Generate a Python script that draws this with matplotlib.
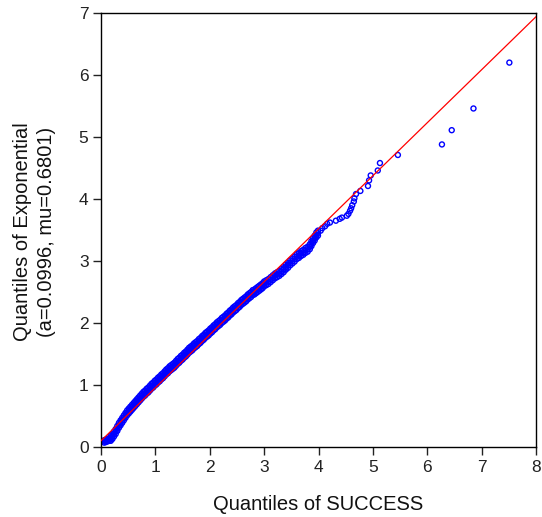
import matplotlib
matplotlib.use("Agg")
import matplotlib.pyplot as plt

plt.rcParams['font.family'] = ['Liberation Sans', 'DejaVu Sans']

# Dense part of the sample: sample quantiles (x) with the spread of the
# fitted exponential quantiles (y) at each of them: lower, middle, upper
dense_success_q = [
    0.06, 0.09, 0.12, 0.15, 0.18, 0.21, 0.24, 0.27, 0.30, 0.33, 0.36, 0.39,
    0.42, 0.45, 0.48, 0.51, 0.54, 0.57, 0.60, 0.63, 0.66, 0.69, 0.72, 0.75,
    0.78, 0.81, 0.84, 0.87, 0.90, 0.93, 0.96, 0.99, 1.02, 1.05, 1.08, 1.11,
    1.14, 1.17, 1.20, 1.23, 1.26, 1.29, 1.32, 1.35, 1.38, 1.41, 1.44, 1.47,
    1.50, 1.53, 1.56, 1.59, 1.62, 1.65, 1.68, 1.71, 1.74, 1.77, 1.80, 1.83,
    1.86, 1.89, 1.92, 1.95, 1.98, 2.01, 2.04, 2.07, 2.10, 2.13, 2.16, 2.19,
    2.22, 2.25, 2.28, 2.31, 2.34, 2.37, 2.40, 2.43, 2.46, 2.49, 2.52, 2.55,
    2.58, 2.61, 2.64, 2.67, 2.70, 2.73, 2.76, 2.79, 2.82, 2.85, 2.88, 2.91,
    2.94, 2.97, 3.00, 3.04, 3.08, 3.12, 3.16, 3.20, 3.24, 3.28, 3.32, 3.36,
    3.40, 3.44, 3.48, 3.52, 3.56, 3.60, 3.64, 3.68, 3.72, 3.76, 3.80, 3.84,
    3.87, 3.90, 3.93, 3.96, 3.99,
]

dense_expon_lo = [
    0.07, 0.08, 0.09, 0.10, 0.10, 0.13, 0.17, 0.21, 0.26, 0.31, 0.35, 0.39,
    0.43, 0.47, 0.51, 0.54, 0.57, 0.60, 0.63, 0.66, 0.69, 0.72, 0.75, 0.78,
    0.81, 0.83, 0.86, 0.88, 0.91, 0.94, 0.96, 0.99, 1.01, 1.04, 1.06, 1.09,
    1.11, 1.14, 1.17, 1.19, 1.22, 1.24, 1.26, 1.28, 1.31, 1.34, 1.36, 1.39,
    1.41, 1.44, 1.46, 1.49, 1.52, 1.54, 1.56, 1.59, 1.61, 1.63, 1.66, 1.68,
    1.71, 1.73, 1.76, 1.78, 1.80, 1.83, 1.85, 1.88, 1.90, 1.93, 1.95, 1.97,
    2.00, 2.02, 2.04, 2.07, 2.09, 2.12, 2.14, 2.17, 2.19, 2.21, 2.24, 2.26,
    2.29, 2.31, 2.33, 2.35, 2.38, 2.40, 2.42, 2.45, 2.46, 2.48, 2.50, 2.52,
    2.54, 2.56, 2.59, 2.61, 2.63, 2.66, 2.69, 2.72, 2.74, 2.76, 2.79, 2.82,
    2.86, 2.89, 2.93, 2.96, 2.99, 3.03, 3.05, 3.08, 3.10, 3.13, 3.15, 3.19,
    3.24, 3.29, 3.33, 3.38, 3.41,
]

dense_expon_mid = [
    0.09, 0.10, 0.11, 0.12, 0.14, 0.17, 0.21, 0.25, 0.30, 0.35, 0.39, 0.43,
    0.47, 0.51, 0.55, 0.58, 0.61, 0.64, 0.67, 0.70, 0.73, 0.76, 0.79, 0.82,
    0.85, 0.87, 0.90, 0.92, 0.95, 0.98, 1.00, 1.03, 1.05, 1.08, 1.10, 1.13,
    1.15, 1.18, 1.21, 1.23, 1.26, 1.28, 1.30, 1.32, 1.35, 1.38, 1.40, 1.43,
    1.45, 1.48, 1.50, 1.53, 1.56, 1.58, 1.60, 1.63, 1.65, 1.67, 1.70, 1.72,
    1.75, 1.77, 1.80, 1.82, 1.84, 1.87, 1.89, 1.92, 1.94, 1.97, 1.99, 2.01,
    2.04, 2.06, 2.08, 2.11, 2.13, 2.16, 2.18, 2.21, 2.23, 2.25, 2.28, 2.30,
    2.33, 2.35, 2.37, 2.39, 2.42, 2.44, 2.46, 2.49, 2.50, 2.52, 2.54, 2.56,
    2.58, 2.60, 2.63, 2.65, 2.67, 2.70, 2.73, 2.76, 2.78, 2.80, 2.83, 2.86,
    2.90, 2.93, 2.97, 3.00, 3.03, 3.07, 3.09, 3.12, 3.14, 3.17, 3.19, 3.23,
    3.28, 3.33, 3.37, 3.42, 3.45,
]

dense_expon_hi = [
    0.11, 0.12, 0.13, 0.14, 0.18, 0.21, 0.25, 0.29, 0.34, 0.39, 0.43, 0.47,
    0.51, 0.55, 0.59, 0.62, 0.65, 0.68, 0.71, 0.74, 0.77, 0.80, 0.83, 0.86,
    0.89, 0.91, 0.94, 0.96, 0.99, 1.02, 1.04, 1.07, 1.09, 1.12, 1.14, 1.17,
    1.19, 1.22, 1.25, 1.27, 1.30, 1.32, 1.34, 1.36, 1.39, 1.42, 1.44, 1.47,
    1.49, 1.52, 1.54, 1.57, 1.60, 1.62, 1.64, 1.67, 1.69, 1.71, 1.74, 1.76,
    1.79, 1.81, 1.84, 1.86, 1.88, 1.91, 1.93, 1.96, 1.98, 2.01, 2.03, 2.05,
    2.08, 2.10, 2.12, 2.15, 2.17, 2.20, 2.22, 2.25, 2.27, 2.29, 2.32, 2.34,
    2.37, 2.39, 2.41, 2.43, 2.46, 2.48, 2.50, 2.53, 2.54, 2.56, 2.58, 2.60,
    2.62, 2.64, 2.67, 2.69, 2.71, 2.74, 2.77, 2.80, 2.82, 2.84, 2.87, 2.90,
    2.94, 2.97, 3.01, 3.04, 3.07, 3.11, 3.13, 3.16, 3.18, 3.21, 3.23, 3.27,
    3.32, 3.37, 3.41, 3.46, 3.49,
]

# Upper tail: individual quantile pairs
tail_success_q = [
    4.04, 4.07, 4.12, 4.16, 4.21, 4.32, 4.39, 4.43, 4.52, 4.55, 4.58, 4.60,
    4.62, 4.65, 4.66, 4.69, 4.77, 4.91, 4.93, 4.96, 5.09, 5.13, 5.46, 6.27,
    6.45, 6.85, 7.51,
]
tail_expon_q = [
    3.49, 3.53, 3.56, 3.60, 3.62, 3.65, 3.68, 3.70, 3.73, 3.76, 3.81, 3.85,
    3.90, 3.96, 4.01, 4.08, 4.13, 4.21, 4.30, 4.38, 4.46, 4.58, 4.71, 4.88,
    5.11, 5.46, 6.20,
]

# Reference line
line_intercept = 0.10
line_slope = 0.855

x_ticks = [0, 1, 2, 3, 4, 5, 6, 7, 8]
y_ticks = [0, 1, 2, 3, 4, 5, 6, 7]

fig = plt.figure(figsize=(5.42, 5.17), dpi=100)
ax = fig.add_axes([101 / 542, 70 / 517, 435 / 542, 434 / 517])

marker_kw = dict(s=13, facecolors='none', edgecolors='#0000ff',
                 linewidths=1.0, zorder=2)
for ys in (dense_expon_lo, dense_expon_mid, dense_expon_hi):
    ax.scatter(dense_success_q, ys, **marker_kw)
ax.scatter(tail_success_q, tail_expon_q, **marker_kw)

lx = [0, 8]
ly = [line_intercept + line_slope * v for v in lx]
ax.plot(lx, ly, color='#ff0000', linewidth=0.9, zorder=3)

ax.set_xlim(0, 8)
ax.set_ylim(0, 7)
ax.set_xticks(x_ticks)
ax.set_yticks(y_ticks)
ax.tick_params(direction='out', length=6, width=1, labelsize=12.5,
               colors='#222222', pad=3)
for sp in ax.spines.values():
    sp.set_linewidth(1.0)
    sp.set_color('black')

fig.text(318.5 / 542, 1 - 505 / 517, 'Quantiles of SUCCESS',
         fontsize=14.5, ha='center', va='center', color='#111111')
fig.text(34.5 / 542, 1 - 232 / 517,
         'Quantiles of Exponential\n(a=0.0996, mu=0.6801)',
         fontsize=14.5, ha='center', va='center', rotation=90,
         multialignment='center', linespacing=1.3, color='#111111')

fig.savefig('out.png', dpi=100)
